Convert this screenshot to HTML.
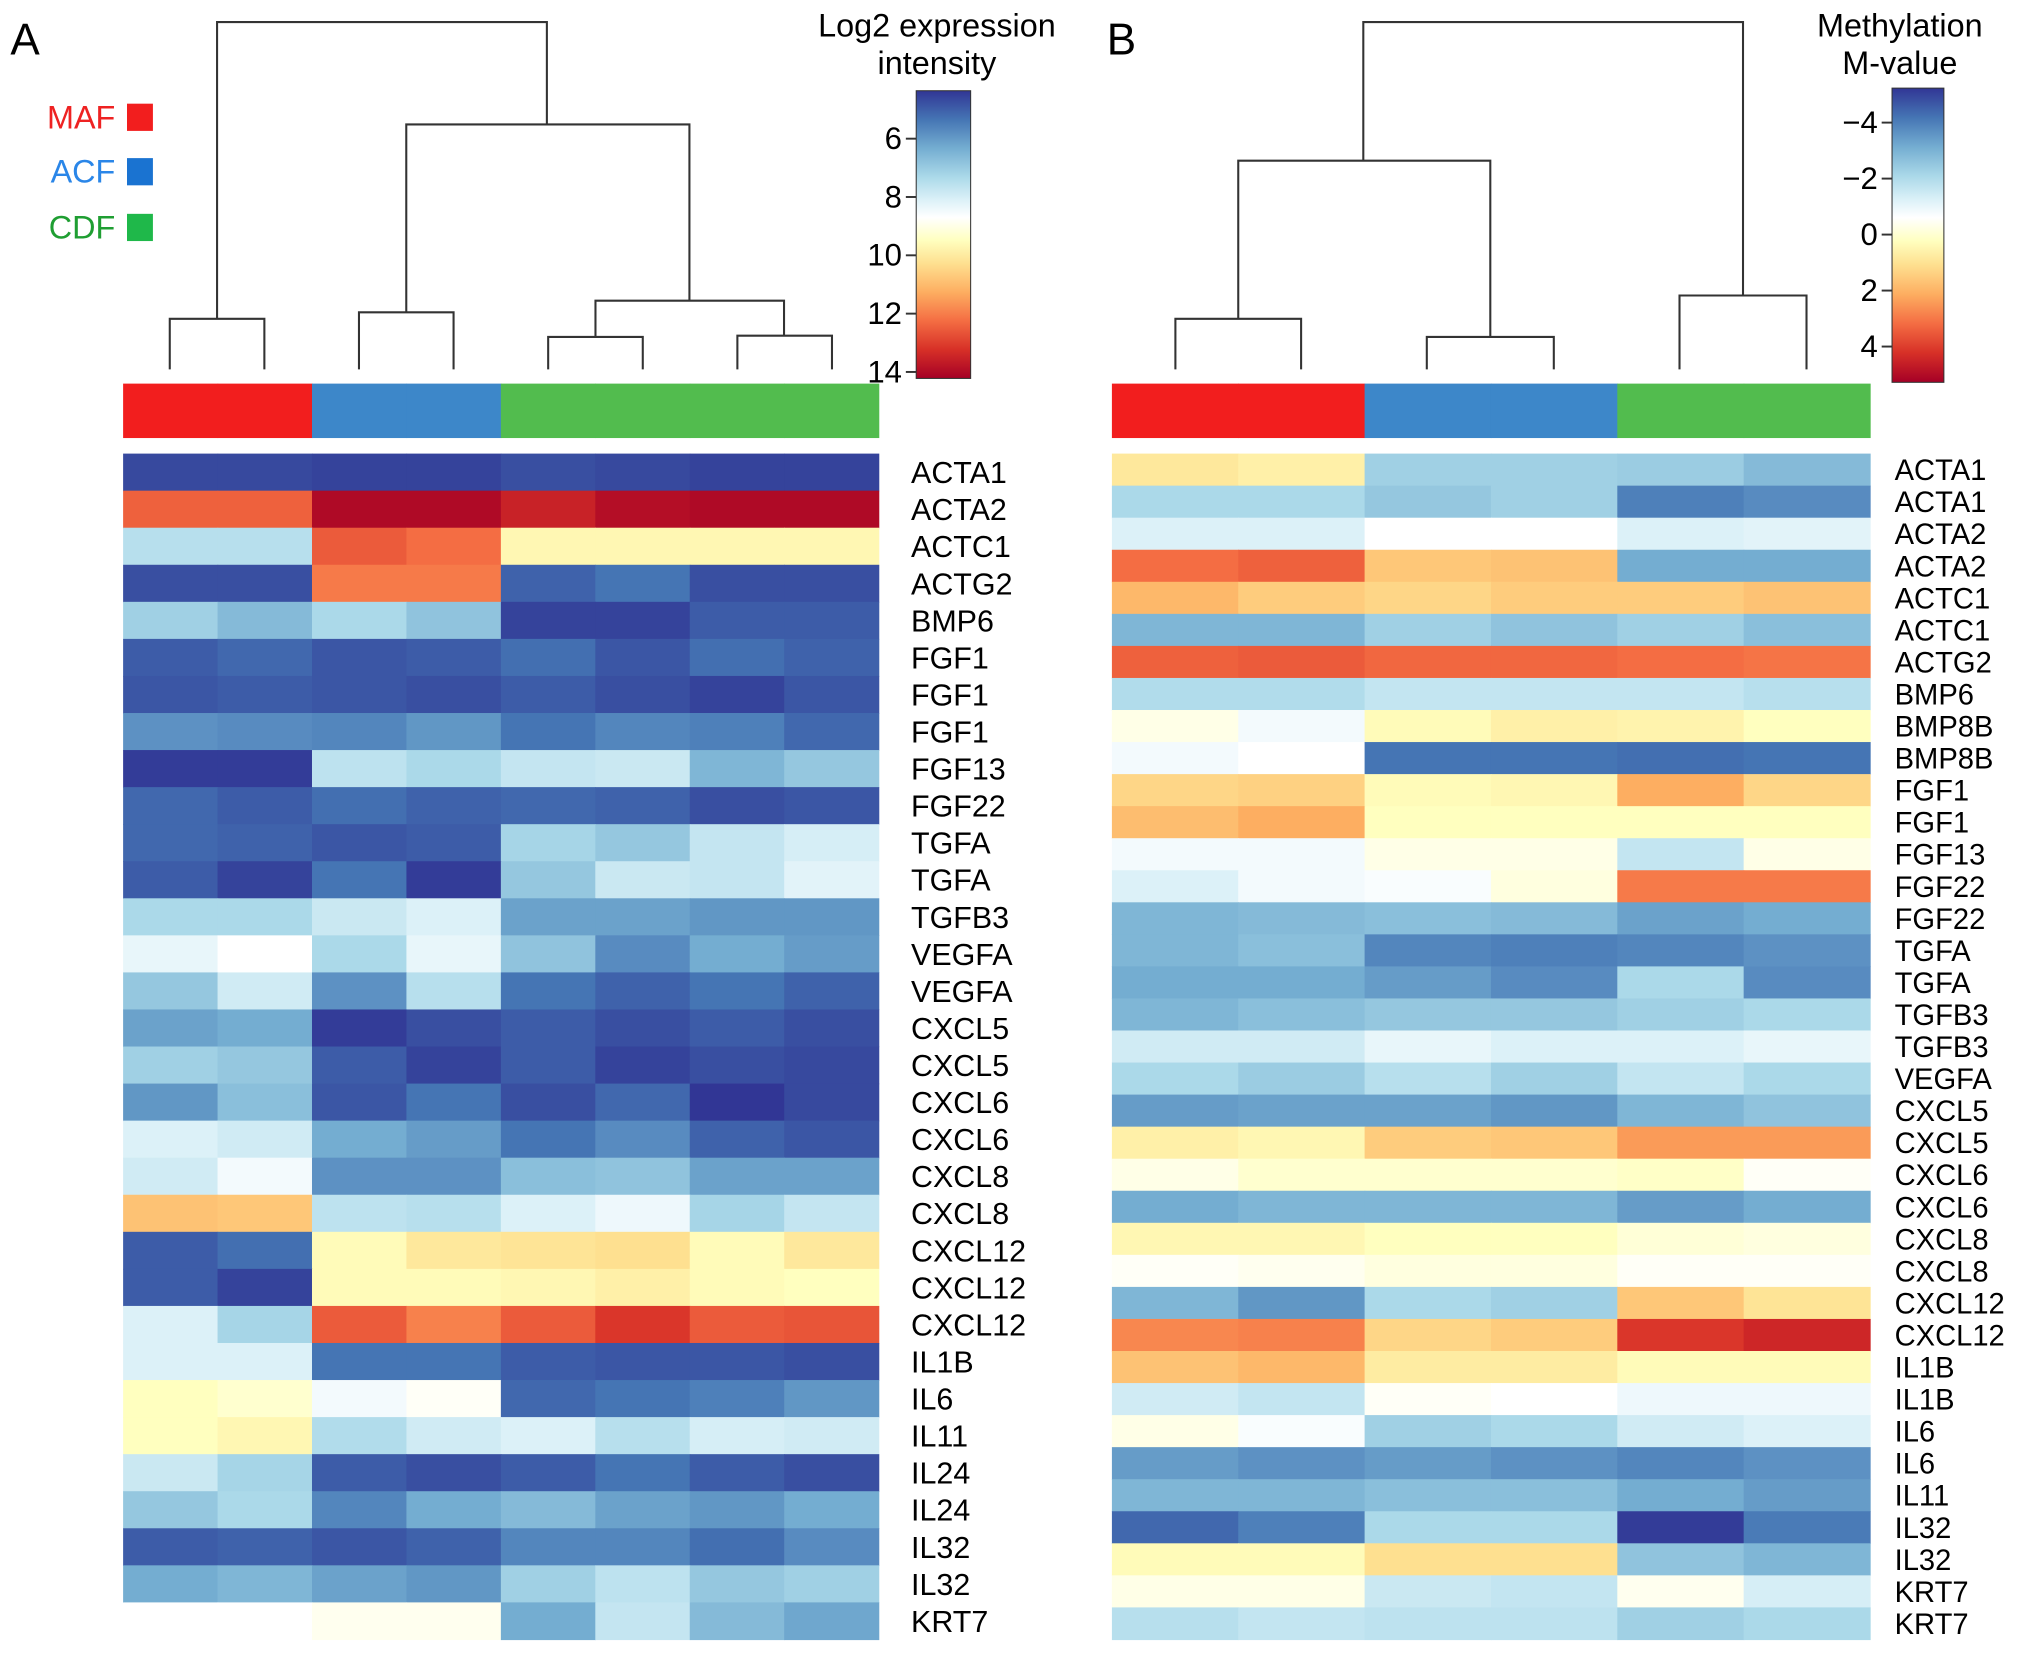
<!DOCTYPE html>
<html><head><meta charset="utf-8"><style>
html,body{margin:0;padding:0;background:#fff;}
svg{display:block;}
text{font-family:"Liberation Sans",sans-serif;}
</style></head><body>
<svg id="fig" width="2032" height="1655" viewBox="0 0 1568 1277" preserveAspectRatio="none" xmlns="http://www.w3.org/2000/svg">
<rect x="0" y="0" width="1568" height="1277" fill="#fff"/>
<text x="8" y="42" font-size="34">A</text>
<text x="854" y="42" font-size="34">B</text>
<g font-size="25">
<text x="89" y="99" text-anchor="end" fill="#ee2222">MAF</text>
<rect x="98" y="80" width="20" height="21" fill="#f21e1e"/>
<text x="89" y="141" text-anchor="end" fill="#2a86e8">ACF</text>
<rect x="98" y="122" width="20" height="21" fill="#1a73d1"/>
<text x="89" y="184" text-anchor="end" fill="#1f9e32">CDF</text>
<rect x="98" y="165" width="20" height="21" fill="#1fb84a"/>
</g>
<g fill="none" stroke="#333" stroke-width="1.6">
<path d="M131,285V246H204V285M167.5,246V17H422V96M277,285V241H350V285M313.5,241V96H532V232M423,285V260H496V285M459.5,260V232H605V259M569,285V259H642V285"/>
</g>
<g fill="none" stroke="#333" stroke-width="1.6">
<path d="M907,285V246H1004V285M955.5,246V124H1150V260M1101,285V260H1199V285M1052,124V17H1345V228M1296,285V228H1394V285"/>
</g>
<g id="gA"></g><g id="gB"></g>
<defs>
<linearGradient id="cbgrad" x1="0" y1="0" x2="0" y2="1">
<stop offset="0" stop-color="#313695"/><stop offset="0.1" stop-color="#4575b4"/><stop offset="0.2" stop-color="#74add1"/><stop offset="0.3" stop-color="#abd9e9"/><stop offset="0.38" stop-color="#dcf1f8"/><stop offset="0.44" stop-color="#ffffff"/><stop offset="0.52" stop-color="#ffffbf"/><stop offset="0.6" stop-color="#fee090"/><stop offset="0.7" stop-color="#fdae61"/><stop offset="0.8" stop-color="#f46d43"/><stop offset="0.9" stop-color="#d73027"/><stop offset="1" stop-color="#a50026"/>
</linearGradient>
</defs>
<g>
<text x="723" y="28" font-size="25" text-anchor="middle">Log2 expression</text>
<text x="723" y="57" font-size="25" text-anchor="middle">intensity</text>
<rect x="707" y="70" width="42" height="222" fill="url(#cbgrad)" stroke="#333" stroke-width="0.8"/>
<g id="ticksA"></g>
</g>
<g>
<text x="1466" y="28" font-size="25" text-anchor="middle">Methylation</text>
<text x="1466" y="57" font-size="25" text-anchor="middle">M-value</text>
<rect x="1460" y="68" width="40" height="227" fill="url(#cbgrad)" stroke="#333" stroke-width="0.8"/>
<g id="ticksB"></g>
</g>
</svg>
<script>
const rowsA = ["ACTA1","ACTA2","ACTC1","ACTG2","BMP6","FGF1","FGF1","FGF1","FGF13","FGF22","TGFA","TGFA","TGFB3","VEGFA","VEGFA","CXCL5","CXCL5","CXCL6","CXCL6","CXCL8","CXCL8","CXCL12","CXCL12","CXCL12","IL1B","IL6","IL11","IL24","IL24","IL32","IL32","KRT7"];
const groupsA = ["MAF","MAF","ACF","ACF","CDF","CDF","CDF","CDF"];
const valuesA = [
[4.3,4.3,4.2,4.2,4.4,4.3,4.2,4.2],
[12.2,12.2,13.8,13.8,13.3,13.7,13.8,13.8],
[7.2,7.2,12.3,12.0,9.4,9.4,9.4,9.4],
[4.4,4.4,11.8,11.8,4.7,5.0,4.4,4.4],
[6.8,6.3,7.0,6.5,4.2,4.2,4.6,4.6],
[4.6,4.8,4.5,4.6,4.9,4.5,4.9,4.7],
[4.5,4.6,4.5,4.4,4.6,4.4,4.2,4.5],
[5.5,5.4,5.3,5.6,5.0,5.3,5.2,4.8],
[4.1,4.1,7.3,7.0,7.4,7.5,6.2,6.6],
[4.8,4.6,4.9,4.7,4.8,4.7,4.4,4.5],
[4.8,4.7,4.5,4.6,6.9,6.6,7.4,7.7],
[4.6,4.2,5.0,4.1,6.6,7.5,7.4,7.9],
[7.0,7.0,7.5,7.8,5.8,5.8,5.6,5.6],
[8.0,8.4,7.0,8.0,6.5,5.4,6.0,5.7],
[6.6,7.6,5.5,7.2,5.0,4.7,5.0,4.7],
[5.8,6.0,4.1,4.4,4.6,4.4,4.6,4.4],
[6.8,6.6,4.6,4.2,4.6,4.2,4.4,4.3],
[5.6,6.4,4.5,5.0,4.4,4.8,4.0,4.3],
[7.8,7.6,6.0,5.7,5.0,5.4,4.7,4.5],
[7.6,8.2,5.5,5.5,6.4,6.5,5.8,5.8],
[10.6,10.5,7.3,7.2,7.8,8.1,6.9,7.4],
[4.6,4.9,9.3,9.8,9.9,10.0,9.3,9.8],
[4.6,4.2,9.3,9.3,9.4,9.6,9.3,9.2],
[7.8,6.9,12.3,11.7,12.3,12.9,12.3,12.4],
[7.8,7.8,5.0,5.0,4.6,4.5,4.5,4.4],
[9.2,9.0,8.2,8.5,4.8,5.0,5.2,5.6],
[9.2,9.4,7.1,7.6,7.8,7.2,7.7,7.6],
[7.5,6.9,4.6,4.4,4.6,5.0,4.6,4.4],
[6.6,7.0,5.3,6.0,6.3,5.8,5.6,6.0],
[4.6,4.7,4.5,4.7,5.3,5.3,4.9,5.4],
[6.0,6.2,5.8,5.6,6.8,7.3,6.6,6.8],
[8.4,8.4,8.6,8.6,6.0,7.4,6.3,5.9]];
const ticksA = [6,8,10,12,14];

const rowsB = ["ACTA1","ACTA1","ACTA2","ACTA2","ACTC1","ACTC1","ACTG2","BMP6","BMP8B","BMP8B","FGF1","FGF1","FGF13","FGF22","FGF22","TGFA","TGFA","TGFB3","TGFB3","VEGFA","CXCL5","CXCL5","CXCL6","CXCL6","CXCL8","CXCL8","CXCL12","CXCL12","IL1B","IL1B","IL6","IL6","IL11","IL32","IL32","KRT7","KRT7"];
const groupsB = ["MAF","MAF","ACF","ACF","CDF","CDF"];
const valuesB = [
[0.8,0.6,-2.2,-2.2,-2.3,-2.7],
[-2.0,-2.0,-2.4,-2.2,-3.8,-3.6],
[-1.2,-1.2,-0.6,-0.6,-1.2,-1.1],
[3.0,3.2,1.5,1.6,-3.0,-3.0],
[1.8,1.4,1.2,1.4,1.4,1.6],
[-2.8,-2.8,-2.2,-2.5,-2.2,-2.6],
[3.2,3.3,3.1,3.1,3.0,2.9],
[-1.9,-1.9,-1.6,-1.6,-1.6,-1.8],
[-0.3,-0.8,0.3,0.6,0.5,0.2],
[-0.8,-0.6,-4.0,-4.0,-4.1,-4.0],
[1.2,1.3,0.3,0.4,2.0,1.2],
[1.7,2.0,0.2,0.2,0.2,0.2],
[-0.8,-0.8,-0.3,-0.3,-1.6,-0.3],
[-1.2,-0.8,-0.7,-0.2,2.8,2.8],
[-2.8,-2.7,-2.6,-2.7,-3.2,-3.0],
[-2.8,-2.6,-3.7,-3.8,-3.7,-3.5],
[-3.0,-3.0,-3.3,-3.6,-2.0,-3.6],
[-2.8,-2.6,-2.4,-2.4,-2.2,-2.0],
[-1.4,-1.4,-1.0,-1.2,-1.2,-1.0],
[-2.0,-2.3,-1.8,-2.2,-1.6,-2.0],
[-3.3,-3.2,-3.2,-3.4,-2.8,-2.5],
[0.6,0.4,1.4,1.5,2.3,2.3],
[-0.3,0.0,0.0,0.0,0.1,-0.5],
[-3.0,-2.8,-2.8,-2.8,-3.3,-3.0],
[0.4,0.4,0.2,0.2,-0.1,-0.2],
[-0.5,-0.4,-0.2,-0.2,-0.5,-0.5],
[-2.8,-3.4,-2.0,-2.2,1.5,0.9],
[2.6,2.7,1.2,1.4,3.9,4.2],
[1.6,1.8,0.7,0.7,0.3,0.3],
[-1.4,-1.6,-0.5,-0.6,-0.9,-0.9],
[-0.3,-0.7,-2.2,-2.0,-1.4,-1.2],
[-3.3,-3.5,-3.3,-3.5,-3.7,-3.5],
[-2.8,-2.8,-2.6,-2.6,-3.0,-3.3],
[-4.2,-3.8,-2.0,-2.0,-4.9,-3.9],
[0.3,0.3,1.0,1.0,-2.5,-2.8],
[-0.3,-0.3,-1.5,-1.6,-0.4,-1.3],
[-1.8,-1.6,-1.7,-1.7,-2.2,-2.0]];
const ticksB = [-4,-2,0,2,4];

const groupColors = {MAF:"#f21e1e",ACF:"#3d87c9",CDF:"#52bc4e"};
const stopPos = [0,0.1,0.2,0.3,0.38,0.44,0.52,0.6,0.7,0.8,0.9,1];
const stopCol = ["#313695","#4575b4","#74add1","#abd9e9","#dcf1f8","#ffffff","#ffffbf","#fee090","#fdae61","#f46d43","#d73027","#a50026"];
function hex(h){return [1,3,5].map(i=>parseInt(h.substr(i,2),16));}
function cmap(t){t=Math.max(0,Math.min(1,t));let i=0;while(i<stopPos.length-2&&t>stopPos[i+1])i++;const f=(t-stopPos[i])/(stopPos[i+1]-stopPos[i]);const a=hex(stopCol[i]),b=hex(stopCol[i+1]);return "rgb("+a.map((v,k)=>Math.round(v+(b[k]-v)*f)).join(",")+")";}
const NS="http://www.w3.org/2000/svg";
function mk(tag,attrs,parent){const e=document.createElementNS(NS,tag);for(const k in attrs)e.setAttribute(k,attrs[k]);parent.appendChild(e);return e;}

function drawPanel(gid,rows,groups,values,x0,x1,y0,y1,vmin,vmax,labelX,fs,prefix){
  const g=document.getElementById(gid);
  const nC=groups.length,nR=rows.length;
  const cw=(x1-x0)/nC,rh=(y1-y0)/nR;
  const xS=c=>x0+c*cw, yS=r=>y0+r*rh, tS=v=>(v-vmin)/(vmax-vmin);
  groups.forEach((gr,c)=>{
    const r=mk("rect",{x:xS(c),y:296,width:cw+0.5,height:42,fill:groupColors[gr]},g);
    
    
  });
  values.forEach((row,ri)=>{
    row.forEach((v,ci)=>{
      const r=mk("rect",{x:xS(ci),y:yS(ri),width:cw+0.5,height:rh+0.5,fill:cmap(tS(v))},g);
      
      
    });
  });
  rows.forEach((name,ri)=>{
    const t=mk("text",{x:labelX,y:yS(ri)+rh/2+fs*0.36,"font-size":fs},g);
    t.textContent=name;
    
    
  });
}
drawPanel("gA",rowsA,groupsA,valuesA,95,678,350,1265,4,14,703,23.5,"heatmap-a");
drawPanel("gB",rowsB,groupsB,valuesB,858,1443,350,1265,-5,5,1462,22.5,"heatmap-b");

function drawTicks(gid,ticks,x,yOf,prefix){
  const g=document.getElementById(gid);
  ticks.forEach(v=>{
    const y=yOf(v);
    const l=mk("line",{x1:x-8,x2:x,y1:y,y2:y,stroke:"#333","stroke-width":1.5},g);
    
    
    const t=mk("text",{x:x-11,y:y+8,"font-size":24,"text-anchor":"end"},g);
    t.textContent=v<0?"\u2212"+Math.abs(v):String(v);
    
    
  });
}
drawTicks("ticksA",ticksA,707,v=>107+(v-6)*22.5,"colorbar-a");
drawTicks("ticksB",ticksB,1460,v=>181+v*21.6,"colorbar-b");
</script>
</body></html>
